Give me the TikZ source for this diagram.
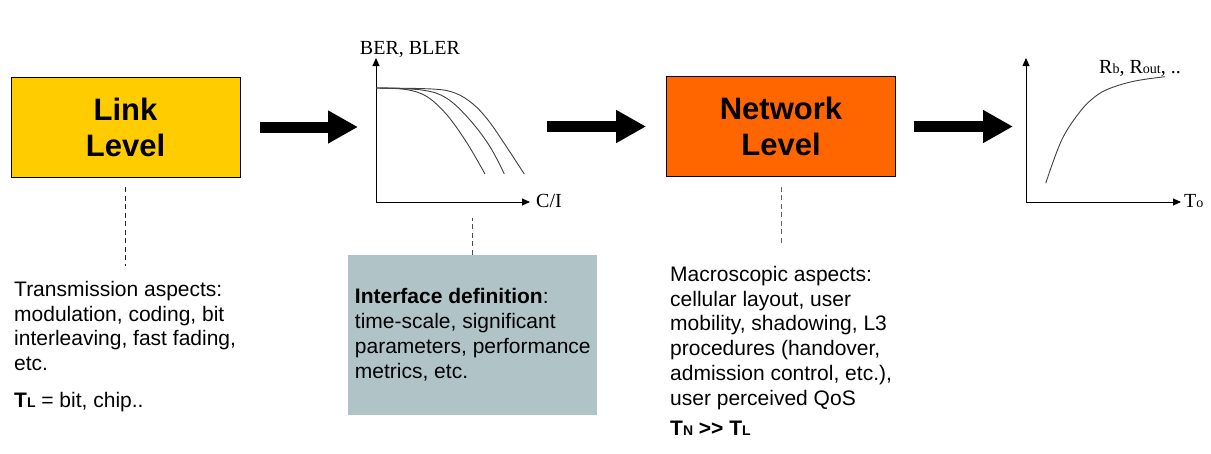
\documentclass[tikz,border=0pt]{standalone}
\usepackage{fontspec}
\setmainfont{Liberation Sans}
\newfontfamily\plotfont{Liberation Serif}
\usepackage{tikz}
\usetikzlibrary{arrows.meta, positioning, calc}
\definecolor{linkyellow}{HTML}{FFCC00}
\definecolor{netorange}{HTML}{FF6600}
\definecolor{ifacegrey}{HTML}{B0C4C8}
\newcommand{\sm}[1]{{\fontsize{14}{14}\selectfont #1}}
\tikzset{
  levelbox/.style={rectangle, draw=black, line width=0.8pt, inner sep=0pt,
                   minimum width=229pt, minimum height=100pt, align=center,
                   font=\fontsize{31}{36}\selectfont\bfseries},
  notetext/.style={anchor=north west, inner sep=0pt, align=left,
                   font=\fontsize{21}{24.8}\selectfont},
  ifacebox/.style={rectangle, fill=ifacegrey, inner sep=0pt,
                   minimum width=249pt, minimum height=160pt, align=left,
                   font=\fontsize{21}{25}\selectfont},
  fatarrow/.style={line width=11pt, -{Triangle[length=30pt, width=31pt]}},
  axis/.style={line width=0.9pt, -{Triangle[length=8pt, width=7pt]}},
  curve/.style={draw=black!75, line width=0.9pt},
  dashline/.style={dash pattern=on 5pt off 3.5pt, line width=0.8pt},
  plotlabel/.style={inner sep=0pt, font=\plotfont\fontsize{20}{20}\selectfont},
}
\begin{document}
\begin{tikzpicture}[x=1pt, y=-1pt]
    \useasboundingbox (0,0) rectangle (1211,453);
    %% link level
    \node[levelbox, fill=linkyellow] (link) at (125.5,127) {Link\\Level};
    \node[notetext] (linktxt) at (14,280.8)
      {Transmission aspects:\\modulation, coding, bit\\interleaving, fast fading,\\etc.\\[12pt]\textbf{T\sm{L}} = bit, chip..};
    \draw[dashline, black!85] ([yshift=-10pt]link.south) -- ([yshift=15pt]linktxt.north -| link.south);
    %% BER curves
    \coordinate (berO) at (376,202);
    \coordinate (berY) at (376,58);
    \coordinate (berX) at (530,202);
    \draw[axis] (berO) -- (berY);
    \draw[axis] (berO) -- (berX);
    \node[plotlabel, anchor=base] (berlbl) at (410,54) {BER, BLER};
    \node[plotlabel, anchor=base west] (cilbl) at (536,207) {C/I};
    \draw[curve] plot[smooth, tension=0.6] coordinates
      {(376,88) (406,89.5) (427,96.7) (447,115) (467,143) (485,174)};
    \draw[curve] plot[smooth, tension=0.6] coordinates
      {(376,88) (421.7,90) (446.7,98.3) (470,120) (490,146.7) (504.3,174)};
    \draw[curve] plot[smooth, tension=0.6] coordinates
      {(376,88) (432,89) (455,93) (473,104) (488,120) (503.3,142) (524.3,174)};
    %% interface
    \node[ifacebox] (iface) at (472.8,335)
      {\textbf{Interface definition}:\\time-scale, significant\\parameters, performance\\metrics, etc.};
    \draw[dashline, black!70] (iface.north) -- ++(0,-37);
    %% network level
    \node[levelbox, fill=netorange] (net) at (781,126.5) {Network\\Level};
    \node[notetext] (nettxt) at (670,265.8)
      {Macroscopic aspects:\\cellular layout, user\\mobility, shadowing, L3\\procedures (handover,\\admission control, etc.),\\user perceived QoS\\[5pt]\textbf{T\sm{N} >\kern0pt> T\sm{L}}};
    \draw[dashline, black!60] ([yshift=-10pt]net.south) -- ++(0,56);
    %% throughput curve
    \coordinate (thrO) at (1026,202);
    \coordinate (thrY) at (1026,58);
    \coordinate (thrX) at (1181,202);
    \draw[axis] (thrO) -- (thrY);
    \draw[axis] (thrO) -- (thrX);
    \node[plotlabel, anchor=base west] (ratelbl) at (1099,73) {R\sm{b}, R\sm{out}, ..};
    \node[plotlabel, anchor=base west] (tolbl) at (1184,207) {T\sm{o}};
    \draw[curve] plot[smooth, tension=0.6] coordinates
      {(1045.7,183.3) (1061.7,140) (1080,111.7) (1095,96.7) (1110,88.3) (1135,81) (1165,76.7)};
    %% arrows
    \draw[fatarrow] ([xshift=20pt]link.east) -- ([xshift=-18pt]link.east -| berO);
    \draw[fatarrow] ([xshift=17pt]berX |- net.west) -- ([xshift=-20pt]net.west);
    \draw[fatarrow] ([xshift=18pt]net.east) -- ([xshift=-13pt]net.east -| thrO);
\end{tikzpicture}
\end{document}
